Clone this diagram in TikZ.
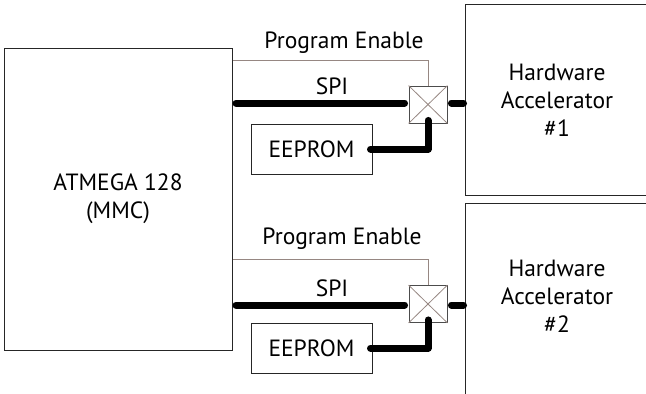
\documentclass[tikz,border=0pt]{standalone}
\usepackage{fontspec}
\setmainfont{PT Sans}
\begin{document}
\begin{tikzpicture}[x=1pt,y=-1pt,
  box/.style={draw=black!85, line width=1pt, inner sep=0pt},
  txt/.style={font=\fontsize{23.5}{28}\selectfont, align=center, inner sep=0pt},
  bus/.style={line width=7pt, line cap=round, line join=round},
  pen/.style={draw=penc, line width=0.9pt},
]
\definecolor{penc}{RGB}{150,135,130}
\useasboundingbox (0,0) rectangle (646,394);
\clip (0,0) rectangle (646,394);
% main controller
\node[box, minimum width=227.5pt, minimum height=302pt] (atm) at (118.25,199) {};
\node[txt] (atmt) at (118,199) {ATMEGA 128\\(MMC)};
% accelerators
\node[box, minimum width=184pt, minimum height=191pt] (ha1) at (557,99.5) {};
\node[txt] (ha1t) at (557,100) {Hardware\\Accelerator\\\#1};
\node[box, minimum width=184pt, minimum height=200pt] (ha2) at (557,303) {};
\node[txt] (ha2t) at (557,296) {Hardware\\Accelerator\\\#2};
% EEPROMs
\node[box, minimum width=121pt, minimum height=50pt, txt] (ee1) at (311.5,149) {EEPROM};
\node[box, minimum width=121pt, minimum height=50pt, txt] (ee2) at (311.5,348) {EEPROM};
% crossing switches
\node[draw=black!70, line width=0.9pt, minimum width=38pt, minimum height=37pt, inner sep=0pt] (sw1) at (428,104.5) {};
\node[draw=black!70, line width=0.9pt, minimum width=38pt, minimum height=37pt, inner sep=0pt] (sw2) at (428,304) {};
\foreach \s in {sw1,sw2}{
  \draw[penc, line width=0.8pt] (\s.north west) -- (\s.south east);
  \draw[penc, line width=0.8pt] (\s.north east) -- (\s.south west);
}
% labels
\node[txt] (pe1) at (344,43) {Program Enable};
\node[txt] (spi1) at (332,86) {SPI};
\node[txt] (pe2) at (342,239) {Program Enable};
\node[txt] (spi2) at (332,288) {SPI};
% program enable lines
\coordinate (p1) at (232.5,60);
\coordinate (p2) at (232.5,259);
\draw[pen] (p1) -| (sw1.north);
\draw[pen] (p2) -| (sw2.north);
% SPI buses
\coordinate (s1) at (236,103);
\coordinate (s2) at (236,305);
\draw[bus] (s1) -- ([xshift=-4pt]sw1.west |- s1);
\draw[bus] (s2) -- ([xshift=-4pt]sw2.west |- s2);
\draw[bus] ([xshift=4pt]sw1.east |- s1) -- ([xshift=-1pt]ha1.west |- s1);
\draw[bus] ([xshift=4pt]sw2.east |- s2) -- ([xshift=-1pt]ha2.west |- s2);
% EEPROM buses
\draw[bus] ([xshift=-2pt]ee1.east) -| ([yshift=3pt]sw1.south);
\draw[bus] ([xshift=-2pt]ee2.east) -| ([yshift=3pt]sw2.south);
\end{tikzpicture}
\end{document}
